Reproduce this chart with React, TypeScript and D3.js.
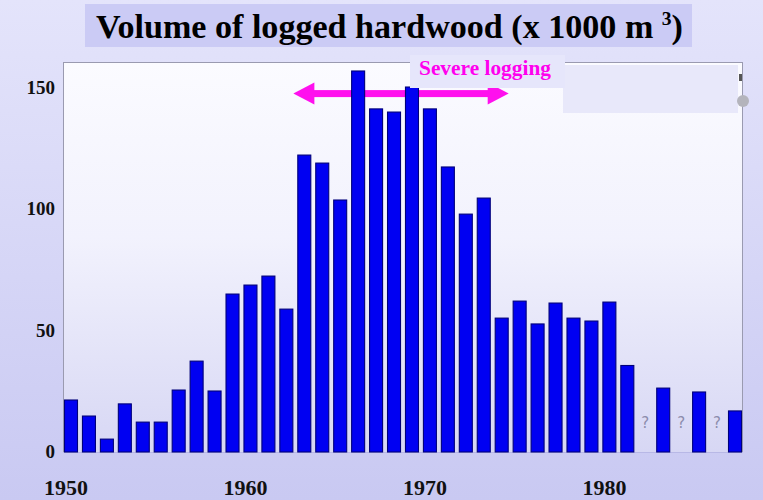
import React from "react";
import * as d3 from "d3";

const years: number[] = [
  1950, 1951, 1952, 1953, 1954, 1955, 1956, 1957, 1958, 1959,
  1960, 1961, 1962, 1963, 1964, 1965, 1966, 1967, 1968, 1969,
  1970, 1971, 1972, 1973, 1974, 1975, 1976, 1977, 1978, 1979,
  1980, 1981, 1982, 1983, 1984, 1985, 1986, 1987,
];
const volumes: (number | null)[] = [
  21.4, 14.8, 5.3, 19.8, 12.3, 12.3, 25.5, 37.4, 25.1, 65,
  68.7, 72.4, 58.8, 122.2, 118.9, 103.7, 156.8, 141.2, 139.9, 150.2,
  141.2, 117.3, 97.9, 104.5, 55.1, 62.1, 52.7, 61.3, 55.1, 53.9,
  61.7, 35.6, null, 26.3, null, 24.7, null, 16.9,
];
const yTicks: number[] = [0, 50, 100, 150];
const xTickYears: number[] = [1950, 1960, 1970, 1980];
const arrowYears: number[] = [1962, 1974];
const arrowValue = 147.5;
const title = "Volume of logged hardwood (x 1000 m ";
const annotation = "Severe logging";

const W = 763;
const H = 500;

export default function App() {
  const x = d3.scaleBand<number>().domain(years).range([64, 742]).paddingInner(0.22).paddingOuter(0);
  const y = d3.scaleLinear().domain([0, 160.5]).range([452, 62]);
  const bw = x.bandwidth();
  const ax0 = (x(arrowYears[0]) as number) + bw;
  const ax1 = (x(arrowYears[1]) as number) + bw;
  const ay = y(arrowValue);
  const headL = 21;
  const headH = 11;

  return (
    <svg width={W} height={H} style={{ position: "absolute", left: 0, top: 0 }}>
      <defs>
        <linearGradient id="bg" x1="0" y1="0" x2="0" y2="1">
          <stop offset="0%" stopColor="#e4e4fb" />
          <stop offset="100%" stopColor="#c9c9f2" />
        </linearGradient>
        <linearGradient id="plotbg" x1="0" y1="0" x2="0" y2="1">
          <stop offset="0%" stopColor="#fbfbff" />
          <stop offset="45%" stopColor="#f2f2fd" />
          <stop offset="100%" stopColor="#d7d7f4" />
        </linearGradient>
      </defs>
      <rect x={0} y={0} width={W} height={H} fill="url(#bg)" />
      {/* title box */}
      <rect x={85} y={4} width={607} height={43} fill="#cbcbf5" />
      <text
        x={96}
        y={38}
        fontFamily="'Liberation Serif', 'Times New Roman', serif"
        fontWeight="bold"
        fontSize={33}
        fill="#000"
        textLength={587}
        lengthAdjust="spacingAndGlyphs"
      >
        {title}
        <tspan fontSize={19} dy={-13}>3</tspan>
        <tspan dy={13}>)</tspan>
      </text>

      {/* plot area */}
      <rect x={64} y={62} width={678} height={390} fill="url(#plotbg)" />
      <rect x={563} y={65} width={175} height={48} fill="#e8e8fa" />

      {/* arrow behind bars */}
      <g fill="#ff10ee" stroke="none">
        <rect x={ax0 + headL - 2} y={ay - 3.5} width={ax1 - ax0 - 2 * headL + 4} height={7} />
        <path d={`M${ax0},${ay} L${ax0 + headL},${ay - headH} L${ax0 + headL},${ay + headH} Z`} />
        <path d={`M${ax1},${ay} L${ax1 - headL},${ay - headH} L${ax1 - headL},${ay + headH} Z`} />
      </g>

      {/* frame */}
      <line x1={63.5} y1={62} x2={63.5} y2={452} stroke="#9a9ab0" strokeWidth={1} />
      <line x1={63.5} y1={62.5} x2={742.5} y2={62.5} stroke="#9a9ab0" strokeWidth={1} />
      <line x1={742.5} y1={62} x2={742.5} y2={452} stroke="#9a9ab0" strokeWidth={1} />
      <line x1={63.5} y1={452.5} x2={742.5} y2={452.5} stroke="#b8b8e6" strokeWidth={1} />
      <circle cx={743} cy={101} r={6} fill="#b4b4bc" />
      <rect x={739} y={74} width={3} height={7} fill="#555" />

      {/* bars */}
      {years.map((yr, i) => {
        const v = volumes[i];
        const bx = x(yr) as number;
        if (v === null) {
          return (
            <text
              key={yr}
              x={bx + bw / 2}
              y={428}
              textAnchor="middle"
              fontFamily="'DejaVu Sans', sans-serif"
              fontSize={15}
              fill="#8c8cac"
            >
              ?
            </text>
          );
        }
        return (
          <rect
            key={yr}
            x={bx + 0.5}
            y={y(v)}
            width={bw - 1}
            height={y(0) - y(v)}
            fill="#0000f2"
            stroke="#00007a"
            strokeWidth={1.1}
          />
        );
      })}

      {/* annotation label */}
      <rect x={410} y={55} width={155} height={33} fill="#e6e6fb" />
      <text
        x={419}
        y={75}
        fontFamily="'Liberation Serif', 'Times New Roman', serif"
        fontWeight="bold"
        fontSize={20}
        fill="#ff00ee"
        textLength={132}
        lengthAdjust="spacingAndGlyphs"
      >
        {annotation}
      </text>

      {/* y tick labels */}
      {yTicks.map((t) => (
        <text
          key={t}
          x={55}
          y={y(t) + 6}
          textAnchor="end"
          fontFamily="'Liberation Serif', 'Times New Roman', serif"
          fontWeight="bold"
          fontSize={19}
          fill="#111"
        >
          {t}
        </text>
      ))}

      {/* x tick labels */}
      {xTickYears.map((yr) => (
        <text
          key={yr}
          x={(x(yr) as number) + bw / 2 - 5}
          y={495}
          textAnchor="middle"
          fontFamily="'Liberation Serif', 'Times New Roman', serif"
          fontWeight="bold"
          fontSize={22}
          fill="#111"
        >
          {yr}
        </text>
      ))}
    </svg>
  );
}
